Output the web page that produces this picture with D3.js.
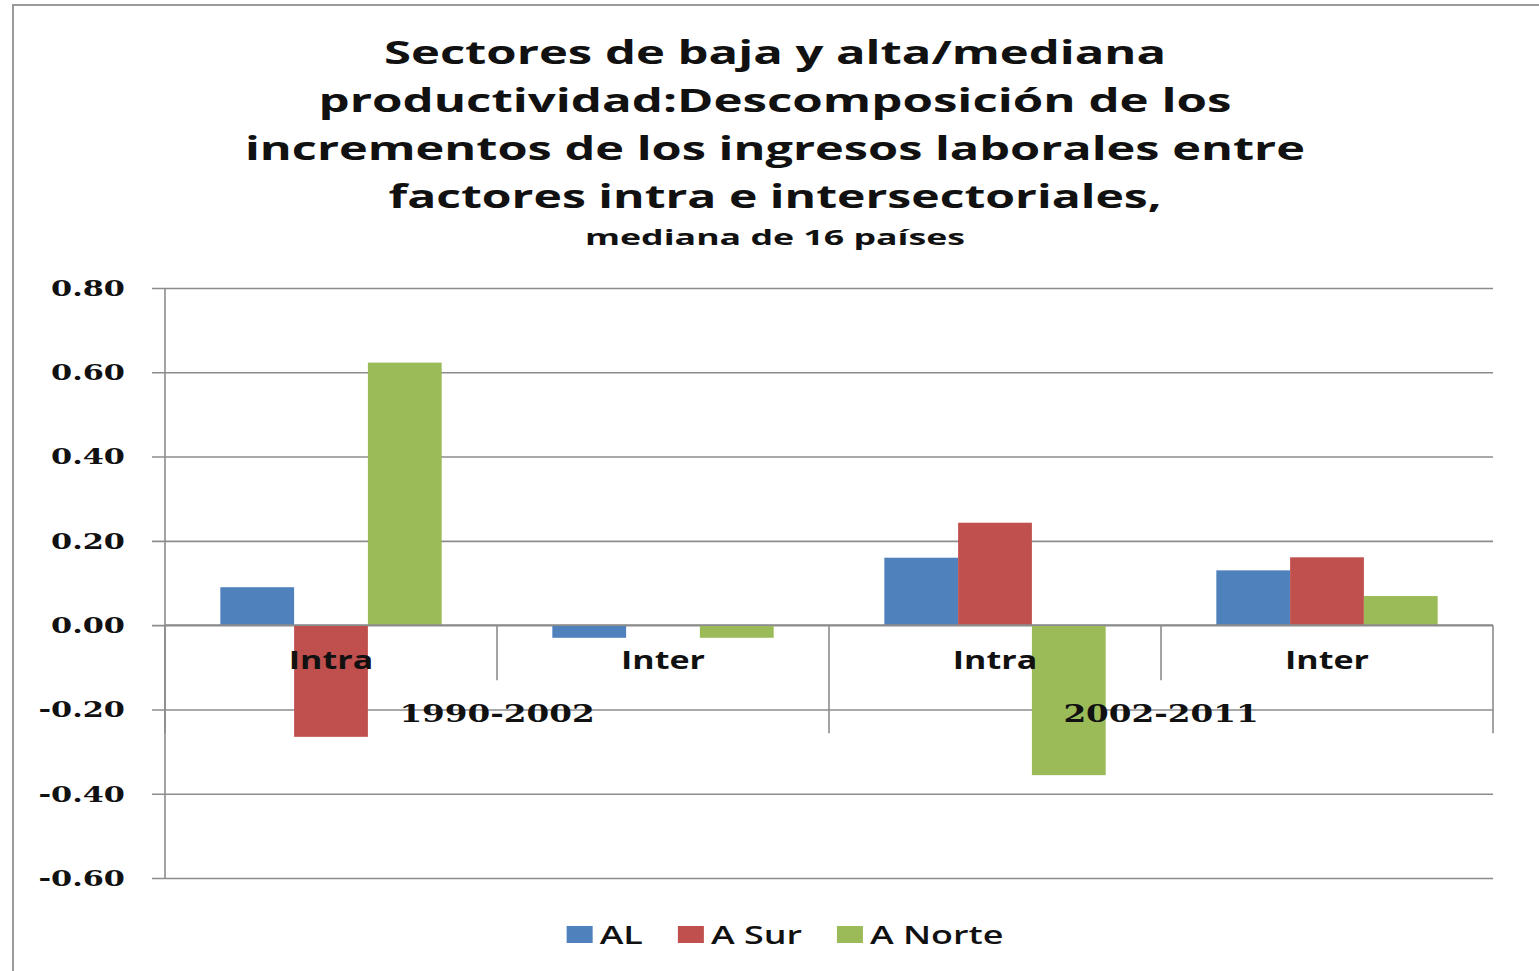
<!DOCTYPE html>
<html>
<head>
<meta charset="utf-8">
<script src="https://cdn.jsdelivr.net/npm/d3@7"></script>
<style>
  html, body { margin: 0; padding: 0; background: #fff; }
  svg { display: block; }
  .grid line { stroke: #8c8c8c; stroke-width: 1.6; }
  .grid .domain { display: none; }
  .ylab text { font-family: 'DejaVu Serif', serif; font-weight: bold; font-size: 23px; fill: #111; }
  .cat text { font-family: 'Open Sans', sans-serif; font-weight: bold; font-size: 25px; fill: #111; }
  .period text { font-family: 'DejaVu Serif', serif; font-weight: bold; font-size: 24px; fill: #111; }
  .title { font-family: 'Open Sans', sans-serif; font-weight: bold; fill: #111; }
  .legend text { font-family: 'Open Sans', sans-serif; font-weight: 600; font-size: 26px; fill: #111; }
</style>
</head>
<body>
<div id="chart"></div>
<script>
// data
const periods = ['1990-2002', '2002-2011'];
const factors = ['Intra', 'Inter'];
const series = ['AL', 'A Sur', 'A Norte'];
const colors = ['#4f81bd', '#c0504d', '#9bbb59'];
const valuesAL = [0.09, -0.03, 0.16, 0.13];
const valuesASur = [-0.265, 0, 0.243, 0.161];
const valuesANorte = [0.623, -0.03, -0.356, 0.069];
const yTicks = [-0.6, -0.4, -0.2, 0, 0.2, 0.4, 0.6, 0.8];
const titleLines = [
  'Sectores de baja y alta/mediana',
  'productividad:Descomposición  de los',
  'incrementos de los ingresos laborales entre',
  'factores intra e intersectoriales,'
];
const subtitle = 'mediana de 16 países';

const W = 1539, H = 971;
const plot = { left: 165, right: 1493, top: 288, bottom: 878 };

// one row per (period, factor)
const cats = [];
periods.forEach(p => factors.forEach(f => cats.push({ key: p + '|' + f, period: p, factor: f })));
const seriesVals = [valuesAL, valuesASur, valuesANorte];
cats.forEach((c, i) => { c.vals = series.map((s, j) => ({ name: s, v: seriesVals[j][i], color: colors[j] })); });

const svg = d3.select('#chart').append('svg').attr('width', W).attr('height', H);

// stretch text horizontally (the reference is a widened Excel picture)
function stretch (sel, k) {
  sel.each(function () {
    const w = this.getComputedTextLength();
    d3.select(this).attr('textLength', w * k).attr('lengthAdjust', 'spacingAndGlyphs');
  });
}
function fitTo (sel, width) {
  sel.attr('textLength', width).attr('lengthAdjust', 'spacingAndGlyphs');
}

// frame
svg.append('path')
  .attr('d', `M13,${H} L13,5 L${W},5`)
  .attr('fill', 'none').attr('stroke', '#9a9a9a').attr('stroke-width', 2);

// title
const titleWidths = [782, 913, 1060, 773];
titleLines.forEach((t, i) => {
  svg.append('text').attr('class', 'title')
    .attr('x', 775).attr('y', 64 + i * 48)
    .attr('text-anchor', 'middle')
    .style('font-size', '33px')
    .text(t)
    .call(fitTo, titleWidths[i]);
});
svg.append('text').attr('class', 'title')
  .attr('x', 775).attr('y', 245)
  .attr('text-anchor', 'middle')
  .style('font-size', '22px')
  .text(subtitle)
  .call(fitTo, 380);

// scales
const y = d3.scaleLinear().domain([-0.6, 0.8]).range([plot.bottom, plot.top]);
const x0 = d3.scaleBand().domain(cats.map(c => c.key)).range([plot.left, plot.right]);
const x1 = d3.scaleBand().domain(series).range([0, x0.bandwidth()]).paddingInner(0).paddingOuter(0.75);
const xp = d3.scaleBand().domain(periods).range([plot.left, plot.right]);

// gridlines + y labels
const gridLeft = plot.left - 13;
const yAxis = svg.append('g')
  .attr('class', 'grid ylab')
  .attr('transform', `translate(${gridLeft},0)`)
  .call(d3.axisLeft(y).tickValues(yTicks)
    .tickSize(-(plot.right - gridLeft))
    .tickPadding(27)
    .tickFormat(d => d.toFixed(2)));
yAxis.selectAll('text').call(stretch, 1.32);

// vertical value axis line
svg.append('line')
  .attr('x1', plot.left).attr('x2', plot.left)
  .attr('y1', plot.top).attr('y2', plot.bottom)
  .attr('stroke', '#8c8c8c').attr('stroke-width', 1.6);

// bars
const groups = svg.append('g').selectAll('g')
  .data(cats).enter().append('g')
  .attr('transform', d => `translate(${x0(d.key)},0)`);
groups.selectAll('rect')
  .data(d => d.vals).enter().append('rect')
  .attr('x', d => x1(d.name))
  .attr('width', x1.bandwidth())
  .attr('y', d => y(Math.max(0, d.v)))
  .attr('height', d => Math.abs(y(d.v) - y(0)))
  .attr('fill', d => d.color);

// category axis line and separators
const y0 = y(0);
svg.append('line')
  .attr('x1', plot.left).attr('x2', plot.right)
  .attr('y1', y0).attr('y2', y0)
  .attr('stroke', '#8c8c8c').attr('stroke-width', 1.6);
const subSeps = cats.slice(1).map(c => x0(c.key)).filter(v => !periods.some(p => Math.abs(xp(p) - v) < 1));
svg.append('g').selectAll('line')
  .data(subSeps).enter().append('line')
  .attr('x1', d => d).attr('x2', d => d)
  .attr('y1', y0).attr('y2', y0 + 55)
  .attr('stroke', '#8c8c8c').attr('stroke-width', 1.6);
const periodSeps = periods.map(p => xp(p) + xp.bandwidth()).concat([xp(periods[0])]);
svg.append('g').selectAll('line')
  .data(periodSeps).enter().append('line')
  .attr('x1', d => d).attr('x2', d => d)
  .attr('y1', y0).attr('y2', y0 + 108)
  .attr('stroke', '#8c8c8c').attr('stroke-width', 1.6);

// category labels
const catAxis = svg.append('g')
  .attr('class', 'cat')
  .attr('transform', `translate(0,${y0})`)
  .call(d3.axisBottom(x0).tickSize(0).tickPadding(26)
    .tickFormat(k => cats.find(c => c.key === k).factor));
catAxis.select('.domain').remove();
catAxis.selectAll('text').call(stretch, 1.36);

const perAxis = svg.append('g')
  .attr('class', 'period')
  .attr('transform', `translate(0,${y0})`)
  .call(d3.axisBottom(xp).tickSize(0).tickPadding(80));
perAxis.select('.domain').remove();
perAxis.selectAll('text').call(stretch, 1.36);

// legend
const legend = svg.append('g').attr('class', 'legend');
let lx = 0;
const items = series.map((s, i) => ({ name: s, color: colors[i] }));
items.forEach(it => {
  const g = legend.append('g').attr('transform', `translate(${lx},0)`);
  g.append('rect').attr('x', 0).attr('y', -9).attr('width', 26).attr('height', 17).attr('fill', it.color);
  const t = g.append('text').attr('x', 33).attr('y', 9).text(it.name);
  t.call(stretch, 1.38);
  lx += 33 + t.node().getBBox().width + 35;
});
const legW = lx - 35;
legend.attr('transform', `translate(${785 - legW / 2},935)`);
</script>
</body>
</html>
